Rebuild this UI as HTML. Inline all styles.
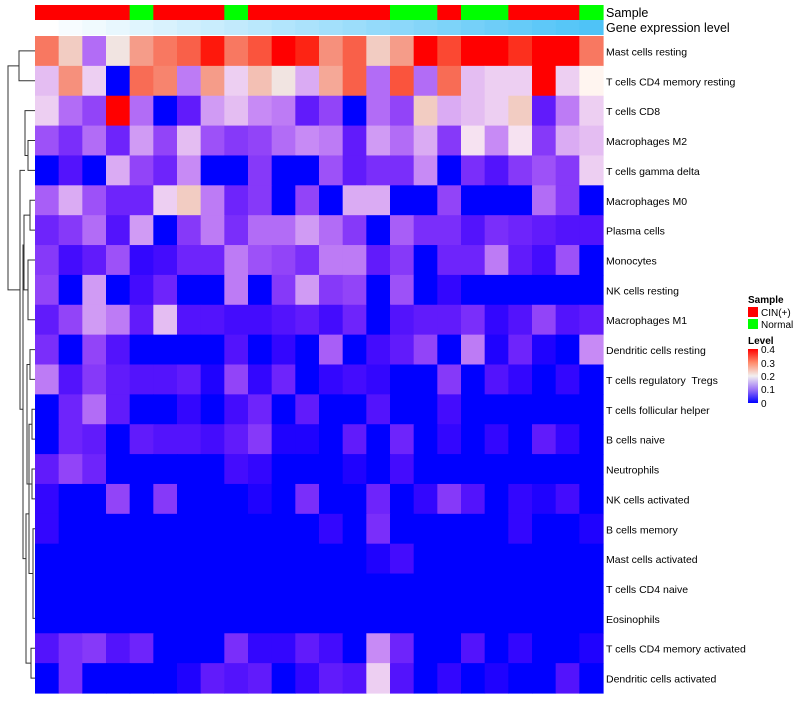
<!DOCTYPE html>
<html><head><meta charset="utf-8">
<style>
body{margin:0;background:#fff;font-family:"Liberation Sans",sans-serif;}
svg text{font-family:"Liberation Sans",sans-serif;white-space:pre;}
</style></head>
<body>
<svg id="chart" width="800" height="700" xmlns="http://www.w3.org/2000/svg">
<g id="dendro" stroke="#333" stroke-width="1" fill="none"></g>
<g id="annot"></g>
<g id="cells"></g>
<g id="labels" font-size="10.5" fill="#000"></g>
<text x="606" y="17" font-size="12.5">Sample</text>
<text x="606" y="32" font-size="12.5">Gene expression level</text>
<g font-size="10">
<text x="748" y="303" font-weight="bold">Sample</text>
<rect x="748" y="307" width="10" height="10" fill="#ff0000"/>
<text x="761" y="316">CIN(+)</text>
<rect x="748" y="319" width="10" height="10" fill="#00ff00"/>
<text x="761" y="328">Normal</text>
<text x="748" y="344" font-weight="bold">Level</text>
<defs><linearGradient id="lg" x1="0" y1="0" x2="0" y2="1">
<stop offset="0" stop-color="#ff0000"/><stop offset="0.25" stop-color="#ff8a6a"/><stop offset="0.5" stop-color="#f2f0f0"/><stop offset="0.75" stop-color="#9c74f6"/><stop offset="1" stop-color="#0000ff"/></linearGradient></defs>
<rect x="748" y="349" width="10" height="54" fill="url(#lg)"/>
<text x="761" y="353">0.4</text>
<text x="761" y="367">0.3</text>
<text x="761" y="380">0.2</text>
<text x="761" y="393">0.1</text>
<text x="761" y="407">0</text>
</g>
</svg>
<script>
const rowNames=["Mast cells resting","T cells CD4 memory resting","T cells CD8","Macrophages M2","T cells gamma delta","Macrophages M0","Plasma cells","Monocytes","NK cells resting","Macrophages M1","Dendritic cells resting","T cells regulatory  Tregs","T cells follicular helper","B cells naive","Neutrophils","NK cells activated","B cells memory","Mast cells activated","T cells CD4 naive","Eosinophils","T cells CD4 memory activated","Dendritic cells activated"];
const sampleGroups=["CIN","CIN","CIN","CIN","Normal","CIN","CIN","CIN","Normal","CIN","CIN","CIN","CIN","CIN","CIN","Normal","Normal","CIN","Normal","Normal","CIN","CIN","CIN","Normal"];
const r01=[0.3,0.23,0.12,0.21,0.27,0.3,0.32,0.38,0.3,0.33,0.4,0.37,0.28,0.32,0.23,0.27,0.4,0.34,0.4,0.4,0.36,0.4,0.4,0.3];
const r02=[0.17,0.28,0.18,0,0.31,0.29,0.13,0.27,0.18,0.24,0.21,0.16,0.26,0.32,0.12,0.33,0.12,0.31,0.17,0.18,0.18,0.4,0.18,0.2];
const r03=[0.18,0.12,0.09,0.4,0.12,0,0.05,0.15,0.17,0.14,0.13,0.05,0.09,0,0.12,0.09,0.23,0.16,0.17,0.18,0.23,0.05,0.13,0.18];
const r04=[0.1,0.07,0.12,0.06,0.15,0.09,0.17,0.1,0.08,0.09,0.12,0.14,0.13,0.05,0.15,0.12,0.16,0.08,0.19,0.14,0.19,0.08,0.16,0.17];
const r05=[0,0.04,0,0.16,0.09,0.06,0.14,0,0,0.08,0,0,0.1,0.05,0.07,0.07,0.14,0,0.07,0.04,0.08,0.1,0.08,0.18];
const r06=[0.11,0.16,0.1,0.06,0.06,0.18,0.23,0.13,0.06,0.08,0,0.09,0,0.16,0.16,0,0,0.09,0,0,0,0.12,0.08,0];
const r07=[0.06,0.08,0.12,0.04,0.15,0,0.08,0.13,0.07,0.12,0.12,0.15,0.12,0.08,0,0.11,0.07,0.07,0.04,0.07,0.06,0.05,0.04,0.04];
const r08=[0.08,0.03,0.05,0.1,0.02,0.03,0.06,0.06,0.13,0.1,0.09,0.07,0.13,0.13,0.05,0.08,0,0.06,0.06,0.13,0.05,0.03,0.1,0];
const r09=[0.09,0,0.15,0,0.03,0.06,0,0,0.13,0,0.08,0.15,0.08,0.09,0,0.1,0,0.02,0,0,0,0,0,0];
const r10=[0.05,0.09,0.15,0.13,0.05,0.17,0.04,0.04,0.03,0.03,0.04,0.05,0.03,0.06,0,0.04,0.05,0.05,0.07,0.02,0.04,0.09,0.04,0.05];
const r11=[0.07,0,0.09,0.04,0,0,0,0,0.04,0,0.02,0,0.11,0,0.03,0.05,0.09,0,0.13,0.01,0.06,0.01,0,0.14];
const r12=[0.13,0.04,0.08,0.05,0.04,0.04,0.05,0.01,0.09,0.02,0.06,0,0.02,0.03,0.02,0,0,0.08,0,0.04,0.02,0,0.02,0];
const r13=[0,0.06,0.12,0.05,0,0,0.02,0,0.03,0.06,0,0.05,0,0,0.04,0,0,0.03,0,0,0,0,0,0];
const r14=[0,0.06,0.05,0,0.05,0.04,0.04,0.03,0.05,0.08,0.01,0.01,0,0.05,0,0.06,0,0.02,0,0.02,0,0.05,0.02,0];
const r15=[0.05,0.09,0.06,0,0,0,0,0,0.03,0.02,0,0,0,0.01,0,0.03,0,0,0,0,0,0,0,0];
const r16=[0.02,0,0,0.09,0,0.08,0,0,0,0.01,0,0.07,0,0,0.06,0,0.02,0.08,0.04,0,0.02,0.01,0.03,0];
const r17=[0.02,0,0,0,0,0,0,0,0,0,0,0,0.02,0,0.07,0,0,0,0,0,0.02,0,0,0.01];
const r18=[0,0,0,0,0,0,0,0,0,0,0,0,0,0,0.01,0.03,0,0,0,0,0,0,0,0];
const r19=[0,0,0,0,0,0,0,0,0,0,0,0,0,0,0,0,0,0,0,0,0,0,0,0];
const r20=[0,0,0,0,0,0,0,0,0,0,0,0,0,0,0,0,0,0,0,0,0,0,0,0];
const r21=[0.04,0.07,0.08,0.04,0.06,0,0,0,0.07,0.02,0.02,0.05,0.03,0,0.14,0.06,0,0,0.04,0,0.02,0,0,0.01];
const r22=[0,0.07,0,0,0,0,0.01,0.05,0.04,0.05,0,0.02,0.05,0.04,0.18,0.04,0,0.02,0,0.01,0,0,0.04,0];
const values=[r01,r02,r03,r04,r05,r06,r07,r08,r09,r10,r11,r12,r13,r14,r15,r16,r17,r18,r19,r20,r21,r22];

const NS="http://www.w3.org/2000/svg";
const X0=35,X1=603,Y0=36,Y1=693;
const nC=24,nR=rowNames.length;
const cw=(X1-X0)/nC,rh=(Y1-Y0)/nR;
const xPos=c=>X0+c*cw, yPos=r=>Y0+r*rh;
function col(v){
  v=Math.max(0,Math.min(0.4,v));
  if(v<=0.2){const t=v/0.2;
    return `rgb(${Math.round(255*Math.pow(t,0.7))},${Math.round(245*Math.pow(t,1.6))},${Math.round(255-15*t)})`;}
  const s=(v-0.2)/0.2;
  return `rgb(${Math.round(240+15*s)},${Math.round(240*(1-s))},${Math.round(240*Math.pow(1-s,1.3))})`;
}
const cells=document.getElementById('cells');
values.forEach((row,r)=>row.forEach((v,c)=>{
  const e=document.createElementNS(NS,'rect');
  e.setAttribute('x',xPos(c));e.setAttribute('y',yPos(r));
  e.setAttribute('width',cw+0.6);e.setAttribute('height',rh+0.6);
  e.setAttribute('fill',col(v));
  
  
  cells.appendChild(e);
}));
const labels=document.getElementById('labels');
rowNames.forEach((n,r)=>{
  const t=document.createElementNS(NS,'text');
  t.setAttribute('x',606);t.setAttribute('y',yPos(r)+rh/2+4.5);
  t.textContent=n;
  
  
  labels.appendChild(t);
});
const annot=document.getElementById('annot');
sampleGroups.forEach((g,c)=>{
  const e=document.createElementNS(NS,'rect');
  e.setAttribute('x',xPos(c));e.setAttribute('y',5);
  e.setAttribute('width',cw+0.6);e.setAttribute('height',15);
  e.setAttribute('fill',g==="CIN"?"#ff0000":"#00ff00");
  
  
  annot.appendChild(e);
  const f=document.createElementNS(NS,'rect');
  const t=c/(nC-1);
  f.setAttribute('x',xPos(c));f.setAttribute('y',20);
  f.setAttribute('width',cw+0.6);f.setAttribute('height',15);
  f.setAttribute('fill',`rgb(${Math.round(255-176*t)},${Math.round(255-60*t)},${Math.round(255-8*t)})`);
  
  
  annot.appendChild(f);
});
const yc=r=>yPos(r)+rh/2;
const d=document.getElementById('dendro');
function link(ya,xa,yb,xb,xm){
  const p=document.createElementNS(NS,'path');
  p.setAttribute('d',`M${xa},${ya}H${xm}V${yb}H${xb}`);
  
  
  d.appendChild(p);
}
link(yc(0),35,yc(1),35,19);
link(yc(3),35,yc(4),35,28);
link(yc(2),35,(yc(3)+yc(4))/2,28,25);
link(yc(5),35,yc(6),35,30);
link(yc(7),35,yc(9),35,28);
link((yc(5)+yc(6))/2,30,yc(8),28,24);
link(yc(10),35,yc(11),35,30);
link(yc(12),35,yc(13),35,32);
link(yc(14),35,yc(15),35,32);
link(yc(16),35,yc(19),35,33);
link(yc(20),35,yc(21),35,31);
link((yc(12)+yc(13))/2,32,(yc(16)+yc(19))/2,33,29);
link((yc(10)+yc(11))/2,30,(yc(14)+yc(15))/2,32,27);
link((yc(20)+yc(21))/2,31,(yc(12)+yc(19))/2,29,26);
link(yc(6.5),24,yc(17),26,23);
link(yc(4),25,yc(12),23,20);
link((yc(0)+yc(1))/2,19,yc(8),20,8);
</script>
</body></html>
